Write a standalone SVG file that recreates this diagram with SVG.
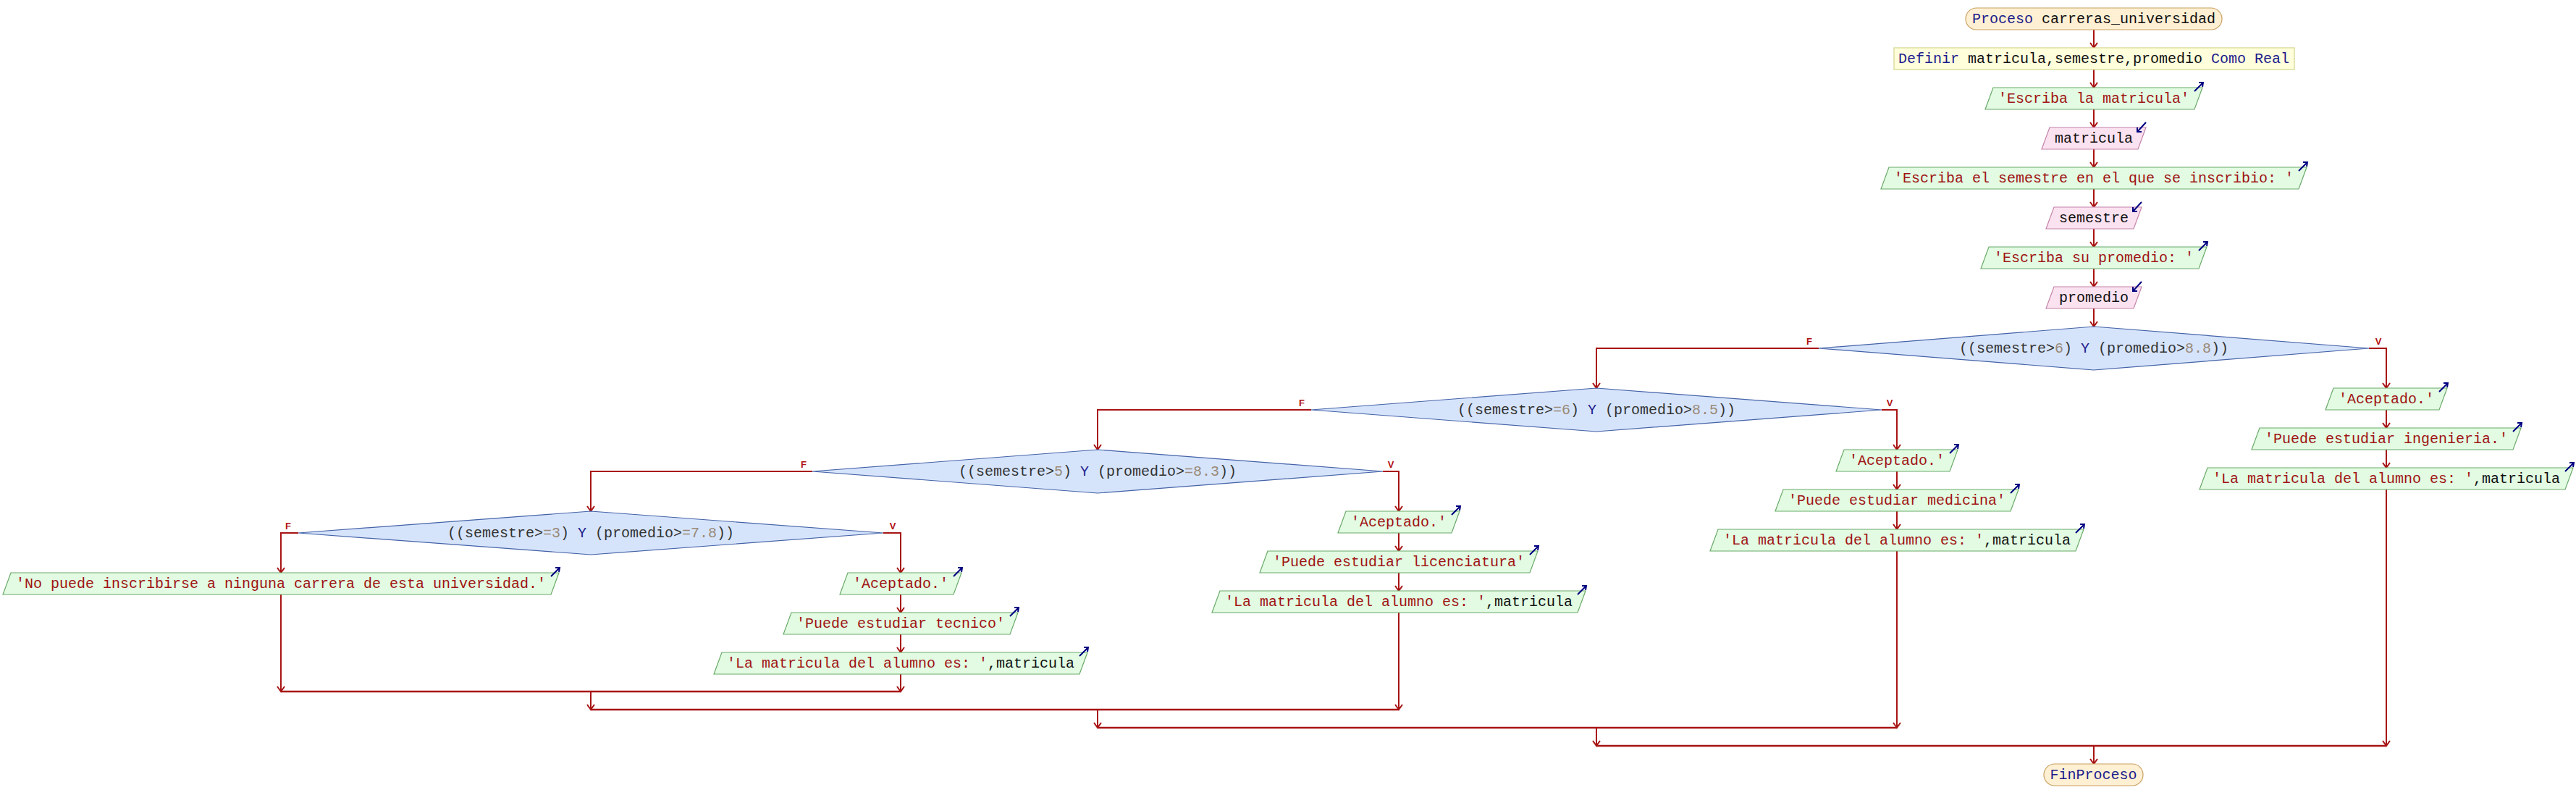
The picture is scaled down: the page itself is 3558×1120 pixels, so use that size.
<svg xmlns="http://www.w3.org/2000/svg" width="3558" height="1120" viewBox="0 0 3558 1120">
<style>
text{font-family:"Liberation Mono","DejaVu Sans Mono",monospace;font-size:20px;text-anchor:middle}
.kw{fill:#1c1c8c}.id{fill:#111}.st{fill:#a01414}.nm{fill:#9a8a78}.dt{fill:#333}
.term{fill:#fff0d4;stroke:#c8a060;stroke-width:1.2}
.def{fill:#ffffdc;stroke:#d4d48c;stroke-width:1.2}
.out{fill:#e2fbe2;stroke:#6aaa6a;stroke-width:1.2}
.in{fill:#fbe2f0;stroke:#c484aa;stroke-width:1.2}
.dec{fill:#d6e4fb;stroke:#4462a8;stroke-width:1.2}
.ico{fill:none;stroke:#000080;stroke-width:2}
.c{fill:none;stroke:#a81414;stroke-width:2}
.m{fill:none;stroke:#a81414;stroke-width:2.5}
.lbl{font-family:"Liberation Sans",Arial,sans-serif;font-size:13px;font-weight:bold;fill:#b01010}
</style>
<defs>
<marker id="ah" markerUnits="userSpaceOnUse" viewBox="-9 -7 11 14" refX="0" refY="0" markerWidth="11" markerHeight="14" orient="auto">
<path d="M-7,-5 L0,0 L-7,5" fill="none" stroke="#a81414" stroke-width="2"/>
</marker>
<path id="oi" class="ico" d="M-11,5 L1,-7 M-5,-7 L1,-7 L0,-1"/>
<path id="ii" class="ico" d="M0,-7 L-12,6 M-12,0 L-12,6 L-6,6"/>
</defs>

<g id="connectors">
<path class="c" marker-end="url(#ah)" d="M2892,41 V66"/>
<path class="c" marker-end="url(#ah)" d="M2892,96 V121"/>
<path class="c" marker-end="url(#ah)" d="M2892,151 V176"/>
<path class="c" marker-end="url(#ah)" d="M2892,206 V231"/>
<path class="c" marker-end="url(#ah)" d="M2892,261 V286"/>
<path class="c" marker-end="url(#ah)" d="M2892,316 V341"/>
<path class="c" marker-end="url(#ah)" d="M2892,371 V396"/>
<path class="c" marker-end="url(#ah)" d="M2892,426 V451"/>
<!-- decision 1 -->
<path class="c" marker-end="url(#ah)" d="M3272,481 H3296 V536"/>
<path class="c" marker-end="url(#ah)" d="M2512,481 H2205 V536"/>
<path class="c" marker-end="url(#ah)" d="M3296,566 V591"/>
<path class="c" marker-end="url(#ah)" d="M3296,621 V646"/>
<path class="c" marker-end="url(#ah)" d="M3296,676 V1030"/>
<!-- decision 2 -->
<path class="c" marker-end="url(#ah)" d="M2599,566 H2620 V621"/>
<path class="c" marker-end="url(#ah)" d="M1811,566 H1516 V621"/>
<path class="c" marker-end="url(#ah)" d="M2620,651 V676"/>
<path class="c" marker-end="url(#ah)" d="M2620,706 V731"/>
<path class="c" marker-end="url(#ah)" d="M2620,761 V1005"/>
<!-- decision 3 -->
<path class="c" marker-end="url(#ah)" d="M1910,651 H1932 V706"/>
<path class="c" marker-end="url(#ah)" d="M1122,651 H816 V706"/>
<path class="c" marker-end="url(#ah)" d="M1932,736 V761"/>
<path class="c" marker-end="url(#ah)" d="M1932,791 V816"/>
<path class="c" marker-end="url(#ah)" d="M1932,846 V980"/>
<!-- decision 4 -->
<path class="c" marker-end="url(#ah)" d="M1220,736 H1244 V791"/>
<path class="c" marker-end="url(#ah)" d="M412,736 H388 V791"/>
<path class="c" marker-end="url(#ah)" d="M388,821 V955"/>
<path class="c" marker-end="url(#ah)" d="M1244,821 V846"/>
<path class="c" marker-end="url(#ah)" d="M1244,876 V901"/>
<path class="c" marker-end="url(#ah)" d="M1244,931 V955"/>
<!-- merges -->
<path class="m" d="M388,955 H1244"/>
<path class="c" marker-end="url(#ah)" d="M816,955 V980"/>
<path class="m" d="M816,980 H1932"/>
<path class="c" marker-end="url(#ah)" d="M1516,980 V1005"/>
<path class="m" d="M1516,1005 H2620"/>
<path class="c" marker-end="url(#ah)" d="M2205,1005 V1030"/>
<path class="m" d="M2205,1030 H3296"/>
<path class="c" marker-end="url(#ah)" d="M2892,1030 V1055"/>
<!-- labels -->
<text class="lbl" x="2499" y="476">F</text>
<text class="lbl" x="3285" y="476">V</text>
<text class="lbl" x="1798" y="561">F</text>
<text class="lbl" x="2610" y="561">V</text>
<text class="lbl" x="1110" y="646">F</text>
<text class="lbl" x="1921" y="646">V</text>
<text class="lbl" x="398" y="731">F</text>
<text class="lbl" x="1233" y="731">V</text>
</g>

<g id="inicio">
<rect class="term" x="2715" y="11" width="354" height="30" rx="15"/>
<text x="2892" y="32"><tspan class="kw">Proceso</tspan><tspan class="id"> carreras_universidad</tspan></text>
</g>
<g id="definir">
<rect class="def" x="2616" y="66" width="553" height="30"/>
<text x="2892" y="87"><tspan class="kw">Definir</tspan><tspan class="id"> matricula,semestre,promedio </tspan><tspan class="kw">Como Real</tspan></text>
</g>
<g id="esc1">
<polygon class="out" points="2753,121 3042,121 3031,151 2742,151"/>
<text x="2892" y="142" class="st">'Escriba la matricula'</text>
<use href="#oi" x="3042" y="121"/>
</g>
<g id="leer1">
<polygon class="in" points="2831,176 2964,176 2953,206 2820,206"/>
<text x="2892" y="197" class="id">matricula</text>
<use href="#ii" x="2964" y="176"/>
</g>
<g id="esc2">
<polygon class="out" points="2609,231 3186,231 3175,261 2598,261"/>
<text x="2892" y="252" class="st">'Escriba el semestre en el que se inscribio: '</text>
<use href="#oi" x="3186" y="231"/>
</g>
<g id="leer2">
<polygon class="in" points="2837,286 2958,286 2947,316 2826,316"/>
<text x="2892" y="307" class="id">semestre</text>
<use href="#ii" x="2958" y="286"/>
</g>
<g id="esc3">
<polygon class="out" points="2747,341 3048,341 3037,371 2736,371"/>
<text x="2892" y="362" class="st">'Escriba su promedio: '</text>
<use href="#oi" x="3048" y="341"/>
</g>
<g id="leer3">
<polygon class="in" points="2837,396 2958,396 2947,426 2826,426"/>
<text x="2892" y="417" class="id">promedio</text>
<use href="#ii" x="2958" y="396"/>
</g>

<g id="dec1">
<polygon class="dec" points="2892,451 3272,481 2892,511 2512,481"/>
<text x="2892" y="487"><tspan class="dt">((semestre&gt;</tspan><tspan class="nm">6</tspan><tspan class="dt">) </tspan><tspan class="kw">Y</tspan><tspan class="dt"> (promedio&gt;</tspan><tspan class="nm">8.8</tspan><tspan class="dt">))</tspan></text>
</g>
<g id="a1">
<polygon class="out" points="3223,536 3380,536 3369,566 3212,566"/>
<text x="3296" y="557" class="st">'Aceptado.'</text>
<use href="#oi" x="3380" y="536"/>
</g>
<g id="p1">
<polygon class="out" points="3121,591 3482,591 3471,621 3110,621"/>
<text x="3296" y="612" class="st">'Puede estudiar ingenieria.'</text>
<use href="#oi" x="3482" y="591"/>
</g>
<g id="m1">
<polygon class="out" points="3049,646 3554,646 3543,676 3038,676"/>
<text x="3296" y="667"><tspan class="st">'La matricula del alumno es: '</tspan><tspan class="id">,matricula</tspan></text>
<use href="#oi" x="3554" y="646"/>
</g>

<g id="dec2">
<polygon class="dec" points="2205,536 2599,566 2205,596 1811,566"/>
<text x="2205" y="572"><tspan class="dt">((semestre&gt;</tspan><tspan class="nm">=6</tspan><tspan class="dt">) </tspan><tspan class="kw">Y</tspan><tspan class="dt"> (promedio&gt;</tspan><tspan class="nm">8.5</tspan><tspan class="dt">))</tspan></text>
</g>
<g id="a2">
<polygon class="out" points="2547,621 2704,621 2693,651 2536,651"/>
<text x="2620" y="642" class="st">'Aceptado.'</text>
<use href="#oi" x="2704" y="621"/>
</g>
<g id="p2">
<polygon class="out" points="2463,676 2788,676 2777,706 2452,706"/>
<text x="2620" y="697" class="st">'Puede estudiar medicina'</text>
<use href="#oi" x="2788" y="676"/>
</g>
<g id="m2">
<polygon class="out" points="2373,731 2878,731 2867,761 2362,761"/>
<text x="2620" y="752"><tspan class="st">'La matricula del alumno es: '</tspan><tspan class="id">,matricula</tspan></text>
<use href="#oi" x="2878" y="731"/>
</g>

<g id="dec3">
<polygon class="dec" points="1516,621 1910,651 1516,681 1122,651"/>
<text x="1516" y="657"><tspan class="dt">((semestre&gt;</tspan><tspan class="nm">5</tspan><tspan class="dt">) </tspan><tspan class="kw">Y</tspan><tspan class="dt"> (promedio&gt;</tspan><tspan class="nm">=8.3</tspan><tspan class="dt">))</tspan></text>
</g>
<g id="a3">
<polygon class="out" points="1859,706 2016,706 2005,736 1848,736"/>
<text x="1932" y="727" class="st">'Aceptado.'</text>
<use href="#oi" x="2016" y="706"/>
</g>
<g id="p3">
<polygon class="out" points="1751,761 2124,761 2113,791 1740,791"/>
<text x="1932" y="782" class="st">'Puede estudiar licenciatura'</text>
<use href="#oi" x="2124" y="761"/>
</g>
<g id="m3">
<polygon class="out" points="1685,816 2190,816 2179,846 1674,846"/>
<text x="1932" y="837"><tspan class="st">'La matricula del alumno es: '</tspan><tspan class="id">,matricula</tspan></text>
<use href="#oi" x="2190" y="816"/>
</g>

<g id="dec4">
<polygon class="dec" points="816,706 1220,736 816,766 412,736"/>
<text x="816" y="742"><tspan class="dt">((semestre&gt;</tspan><tspan class="nm">=3</tspan><tspan class="dt">) </tspan><tspan class="kw">Y</tspan><tspan class="dt"> (promedio&gt;</tspan><tspan class="nm">=7.8</tspan><tspan class="dt">))</tspan></text>
</g>
<g id="no">
<polygon class="out" points="15,791 772,791 761,821 4,821"/>
<text x="388" y="812" class="st">'No puede inscribirse a ninguna carrera de esta universidad.'</text>
<use href="#oi" x="772" y="791"/>
</g>
<g id="a4">
<polygon class="out" points="1171,791 1328,791 1317,821 1160,821"/>
<text x="1244" y="812" class="st">'Aceptado.'</text>
<use href="#oi" x="1328" y="791"/>
</g>
<g id="p4">
<polygon class="out" points="1093,846 1406,846 1395,876 1082,876"/>
<text x="1244" y="867" class="st">'Puede estudiar tecnico'</text>
<use href="#oi" x="1406" y="846"/>
</g>
<g id="m4">
<polygon class="out" points="997,901 1502,901 1491,931 986,931"/>
<text x="1244" y="922"><tspan class="st">'La matricula del alumno es: '</tspan><tspan class="id">,matricula</tspan></text>
<use href="#oi" x="1502" y="901"/>
</g>

<g id="fin">
<rect class="term" x="2823" y="1055" width="137" height="30" rx="15"/>
<text x="2891.5" y="1076" class="kw">FinProceso</text>
</g>
</svg>
